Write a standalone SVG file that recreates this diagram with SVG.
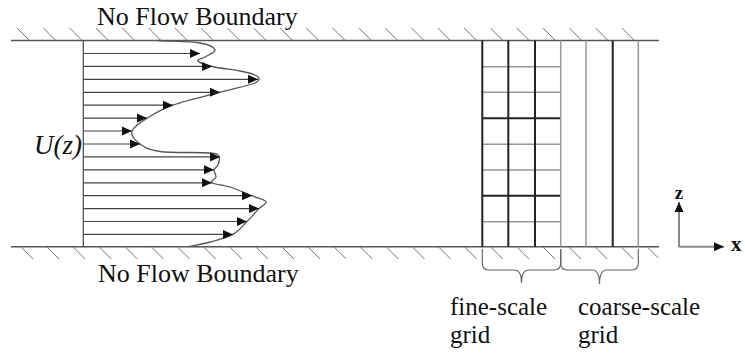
<svg xmlns="http://www.w3.org/2000/svg" width="745" height="356" viewBox="0 0 745 356">
<style>
.txt{font-family:"Liberation Serif","Times New Roman",serif;fill:#111}
.bnd{stroke:#555;stroke-width:1.5;fill:none}
.hatch{stroke:#777;stroke-width:1;fill:none}
.vel{stroke:#444;stroke-width:1.2;fill:none}
.prof{stroke:#555;stroke-width:1.3;fill:none}
.gd{stroke:#222;stroke-width:2;fill:none}
.gl{stroke:#999;stroke-width:1.5;fill:none}
.brace{stroke:#666;stroke-width:1.2;fill:none}
.ax{stroke:#888;stroke-width:2;fill:none}
</style>
<defs>
<marker id="ah" markerUnits="userSpaceOnUse" markerWidth="11" markerHeight="10" refX="10" refY="5" orient="auto">
<path d="M0,0.5 L10,5 L0,9.5 z" fill="#111"/>
</marker>
</defs>
<rect width="745" height="356" fill="#fff"/>
<g id="top-boundary">
<line class="bnd" x1="11" y1="40.5" x2="659" y2="40.5"/>
<path class="hatch" d="M17,28l12,12M43.3,28l12,12M69.6,28l12,12M95.9,28l12,12M122.2,28l12,12M148.5,28l12,12M174.8,28l12,12M201.1,28l12,12M227.4,28l12,12M253.7,28l12,12M280,28l12,12M306.3,28l12,12M332.6,28l12,12M358.9,28l12,12M385.2,28l12,12M411.5,28l12,12M437.8,28l12,12M464.1,28l12,12M490.4,28l12,12M516.7,28l12,12M543,28l12,12M569.3,28l12,12M595.6,28l12,12M621.9,28l12,12"/>
<text class="txt" x="97" y="25" font-size="26">No Flow Boundary</text>
</g>
<g id="bottom-boundary">
<line class="bnd" x1="11" y1="246.7" x2="659" y2="246.7"/>
<path class="hatch" d="M21,247l12,12M47.1,247l12,12M73.2,247l12,12M99.3,247l12,12M125.4,247l12,12M151.5,247l12,12M177.6,247l12,12M203.7,247l12,12M229.8,247l12,12M255.9,247l12,12M282,247l12,12M308.1,247l12,12M334.2,247l12,12M360.3,247l12,12M386.4,247l12,12M412.5,247l12,12M438.6,247l12,12M464.7,247l12,12M490.8,247l12,12M516.9,247l12,12M543,247l12,12M569.1,247l12,12M595.2,247l12,12M621.3,247l12,12M647.4,247l11,11"/>
<text class="txt" x="98" y="282" font-size="26">No Flow Boundary</text>
</g>
<g id="velocity-profile">
<line class="vel" x1="83.3" y1="40.5" x2="83.3" y2="246.7"/>
<text class="txt" x="82" y="154" font-size="27" font-style="italic" text-anchor="end">U(z)</text>
<path class="prof" d="M158,40.5 C172,41.3 190.5,41.4 200,43 S214.2,47.7 215,50 S207.8,55.2 205,57 S196.8,59.4 198,61 S205,64.8 212,66.5 S232.8,69.6 240,71 S251.8,73.6 255,75 S259.5,77.9 259,79.4 S258.5,81.85 252,84 S233.2,88.8 220,92.3 S185.2,100.9 173,105.2 S153.8,113.9 147,118.2 S133.2,126.8 132,131.1 S135.3,140.6 140,144 S148.3,150 160,151.5 S200.2,152.1 210,153 S217.7,155 219,157 S218.8,162.8 218,165 S214.3,168 214,170 S216.3,174.9 216,177 S209.7,181.1 212,182.8 S223.3,184.85 230,187 S246,193.25 252,195.7 S264.8,199.55 266,201.7 S262.2,205.3 259,208.6 S251.3,217.2 247,221.5 S239.2,231 233,234.4 S217.5,240 210,242 S195.3,245.1 188,246.7"/>
</g>
<g id="connectors">
<line class="vel" marker-end="url(#ah)" x1="83.3" y1="53.5" x2="200" y2="53.5"/>
<line class="vel" marker-end="url(#ah)" x1="83.3" y1="66.4" x2="212" y2="66.4"/>
<line class="vel" marker-end="url(#ah)" x1="83.3" y1="79.3" x2="258" y2="79.3"/>
<line class="vel" marker-end="url(#ah)" x1="83.3" y1="92.3" x2="220" y2="92.3"/>
<line class="vel" marker-end="url(#ah)" x1="83.3" y1="105.2" x2="173" y2="105.2"/>
<line class="vel" marker-end="url(#ah)" x1="83.3" y1="118.1" x2="147" y2="118.1"/>
<line class="vel" marker-end="url(#ah)" x1="83.3" y1="131" x2="132" y2="131"/>
<line class="vel" marker-end="url(#ah)" x1="83.3" y1="144" x2="140" y2="144"/>
<line class="vel" marker-end="url(#ah)" x1="83.3" y1="156.9" x2="220" y2="156.9"/>
<line class="vel" marker-end="url(#ah)" x1="83.3" y1="169.8" x2="214" y2="169.8"/>
<line class="vel" marker-end="url(#ah)" x1="83.3" y1="182.8" x2="212" y2="182.8"/>
<line class="vel" marker-end="url(#ah)" x1="83.3" y1="195.7" x2="252" y2="195.7"/>
<line class="vel" marker-end="url(#ah)" x1="83.3" y1="208.6" x2="259" y2="208.6"/>
<line class="vel" marker-end="url(#ah)" x1="83.3" y1="221.5" x2="247" y2="221.5"/>
<line class="vel" marker-end="url(#ah)" x1="83.3" y1="234.4" x2="233" y2="234.4"/>
</g>
<g id="fine-grid">
<line class="gl" x1="482.3" y1="66.7" x2="560.7" y2="66.7"/>
<line class="gl" x1="482.3" y1="92.3" x2="560.7" y2="92.3"/>
<line class="gd" x1="482.3" y1="118.3" x2="560.7" y2="118.3"/>
<line class="gl" x1="482.3" y1="144.3" x2="560.7" y2="144.3"/>
<line class="gl" x1="482.3" y1="170" x2="560.7" y2="170"/>
<line class="gd" x1="482.3" y1="195.7" x2="560.7" y2="195.7"/>
<line class="gl" x1="482.3" y1="221.7" x2="560.7" y2="221.7"/>
<line class="gd" x1="482.3" y1="40.5" x2="482.3" y2="246.7"/>
<line class="gd" x1="508.3" y1="40.5" x2="508.3" y2="246.7"/>
<line class="gd" x1="535" y1="40.5" x2="535" y2="246.7"/>
<line class="gl" x1="560.7" y1="40.5" x2="560.7" y2="246.7"/>
<path class="brace" d="M482.3,249 L482.3,263 Q482.3,270 489,270 L514,270 Q521.5,270 521.5,283 Q521.5,270 529,270 L554,270 Q560.7,270 560.7,263 L560.7,249"/>
<text class="txt" x="450" y="315" font-size="25">fine-scale</text>
<text class="txt" x="450" y="343" font-size="25">grid</text>
</g>
<g id="coarse-grid">
<line class="gl" x1="586" y1="40.5" x2="586" y2="246.7"/>
<line class="gd" x1="612.7" y1="40.5" x2="612.7" y2="246.7"/>
<line class="gl" x1="638.3" y1="40.5" x2="638.3" y2="246.7"/>
<path class="brace" d="M560.7,249 L560.7,263 Q560.7,270 567.5,270 L592,270 Q599.5,270 599.5,284 Q599.5,270 607,270 L631.5,270 Q638.3,270 638.3,263 L638.3,249"/>
<text class="txt" x="578" y="315" font-size="25">coarse-scale</text>
<text class="txt" x="578" y="343" font-size="25">grid</text>
</g>
<g id="axes">
<line class="ax" marker-end="url(#ah)" x1="679" y1="246.7" x2="679" y2="202"/>
<line class="ax" marker-end="url(#ah)" x1="679" y1="246.7" x2="724" y2="246.7"/>
<text class="txt" x="679" y="199" font-size="19" font-weight="bold" text-anchor="middle">z</text>
<text class="txt" x="731" y="251" font-size="21" font-weight="bold">x</text>
</g>
</svg>
